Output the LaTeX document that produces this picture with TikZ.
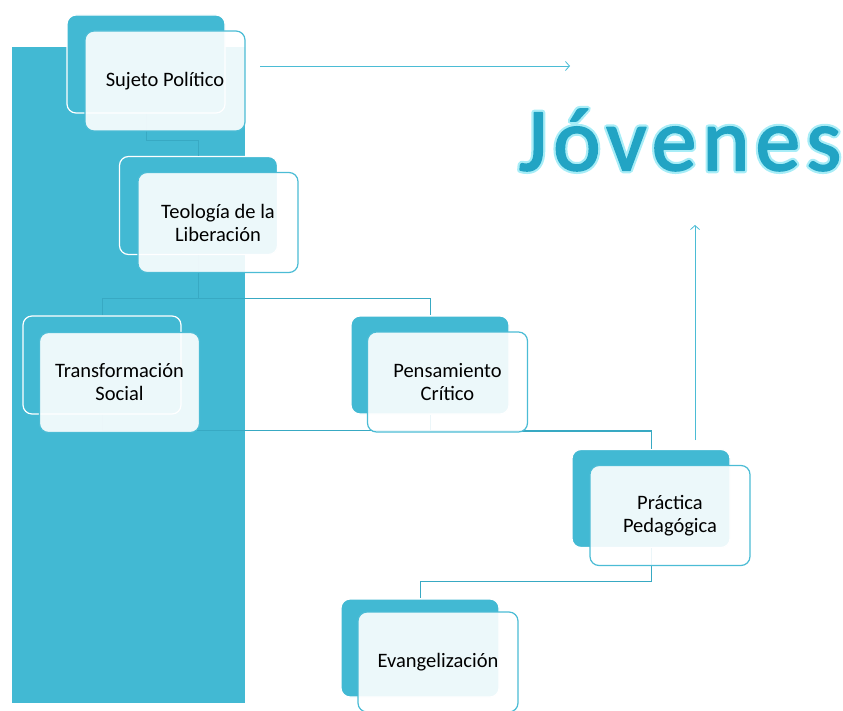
\documentclass[tikz,border=0pt]{standalone}
\usepackage{fontspec}
\setmainfont{Carlito}
\newfontfamily\titlefont[LetterSpace=6.5]{Carlito}
\usepackage{xcolor}
\usetikzlibrary{arrows.meta, positioning}

\definecolor{tealfill}{HTML}{42B9D3}
\definecolor{tealline}{HTML}{4BBCD5}
\definecolor{tealdark}{HTML}{38A9C3}
\definecolor{titleblue}{HTML}{22A4C4}

\newcommand{\glowtext}[1]{\rlap{\special{pdf:literal direct 1 Tr 6 w 1 j 0.66 0.93 0.97 RG}#1}\special{pdf:literal direct 2 Tr 1.6 w 0.133 0.643 0.769 RG}#1\special{pdf:literal direct 0 Tr 1 w}}

\begin{document}
\begin{tikzpicture}[x=1pt, y=-1pt]
        \tikzstyle{backbox} = [rectangle, draw=white, line width=1.2pt, fill=tealfill, rounded corners=9pt, minimum width=158pt, minimum height=98pt]
        \tikzstyle{frontbox} = [rectangle, draw=tealline, line width=1.2pt, fill=white, fill opacity=0.9, text opacity=1, rounded corners=9pt, minimum width=160pt, minimum height=100pt, align=center, font=\fontsize{20.5}{23}\selectfont]
        \tikzstyle{line} = [draw, tealdark, line width=1pt]
        \tikzstyle{arrow} = [draw, tealline, line width=0.8pt, -{Straight Barb[length=4pt, width=9pt]}]

        \useasboundingbox (0,0) rectangle (843,711);
        \fill[tealfill] (12,47) rectangle (245,703);

        \node [backbox] (sujB) at (146,64) {};
        \node [backbox] (teoB) at (198.5,205.5) {};
        \node [backbox] (traB) at (102,365) {};
        \node [backbox] (penB) at (430,365) {};
        \node [backbox] (praB) at (651,498.5) {};
        \node [backbox] (evaB) at (420,648) {};

        \path [line] (sujB.south) -- ++(0,27) -| (teoB.north);
        \path [line] (teoB.south) -- ++(0,43) -| (traB.north);
        \path [line] (teoB.south) -- ++(0,43) -| (penB.north);
        \path [line] (traB.south) -- ++(0,16) -| (praB.north);
        \path [line] (penB.south) -- ++(0,17) -| (praB.north);
        \path [line] (praB.south) -- ++(0,33) -| (evaB.north);

        \node [frontbox] (suj) at (165,81) {Sujeto Político};
        \node [frontbox] (teo) at (218,222.5) {Teología de la\\Liberación};
        \node [frontbox] (tra) at (119.5,382.5) {Transformación\\Social};
        \node [frontbox] (pen) at (447.5,382) {Pensamiento\\Crítico};
        \node [frontbox] (pra) at (670,515.5) {Práctica\\Pedagógica};
        \node [frontbox] (eva) at (438,662) {Evangelización};

        \coordinate (toA) at (260,66);
        \coordinate (toB) at (570,66);
        \coordinate (upA) at (695,440);
        \coordinate (upB) at (695,225);
        \path [arrow] (toA) -- (toB);
        \path [arrow] (upA) -- (upB);

        \node [text=titleblue, font=\titlefont\fontsize{90}{90}\selectfont] (jov) at (680,140) {\glowtext{Jóvenes}};
    \end{tikzpicture}
\end{document}
